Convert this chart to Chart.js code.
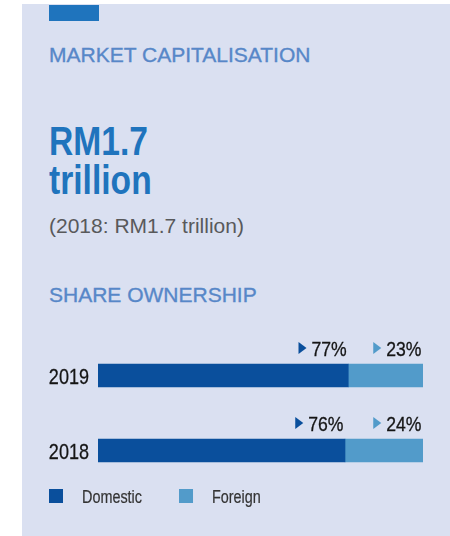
<!DOCTYPE html>
<html>
<head>
<meta charset="utf-8">
<script src="https://cdn.jsdelivr.net/npm/chart.js@4.4.1/dist/chart.umd.min.js"></script>
<style>
  body { margin: 0; background: #fff; width: 450px; height: 536px; overflow: hidden; position: relative; }
  .panel { position: absolute; left: 22px; top: 4px; right: 0; bottom: 0; background: #dae0f1; }
  .tag { position: absolute; left: 49px; top: 5px; width: 50px; height: 16px; background: #1f74bd; }
  .t { position: absolute; left: 49px; white-space: nowrap; font-family: "Liberation Sans", Arial, sans-serif; }
  .head { font-size: 21px; line-height: 21px; color: #5787c8; -webkit-text-stroke: 0.35px #5787c8; }
  .big { font-weight: bold; font-size: 40px; line-height: 40px; color: #1f74bd; transform: scaleX(0.84); transform-origin: 0 0; }
  .sub { font-size: 21px; line-height: 21px; color: #58595b; }
  canvas { position: absolute; left: 0; top: 0; }
</style>
</head>
<body>
<div class="panel"></div>
<div class="tag"></div>
<div class="t head" style="top:44px">MARKET CAPITALISATION</div>
<div class="t big" style="top:121px">RM1.7</div>
<div class="t big" style="top:160px">trillion</div>
<div class="t sub" style="top:215px">(2018: RM1.7 trillion)</div>
<div class="t head" style="top:284px">SHARE OWNERSHIP</div>
<canvas id="ownership" width="450" height="536"></canvas>
<script>
// share ownership, % of market capitalisation
const years = ['2019', '2018'];
const domestic = [77, 76];
const foreign = [23, 24];
const seriesNames = ['Domestic', 'Foreign'];
const seriesColors = ['#0a4f9c', '#529bca'];

const sans = '"Liberation Sans", Arial, sans-serif';

// no narrow font here, so squeeze the normal one
function narrowText(ctx, txt, x, y, squeeze) {
  const w = ctx.measureText(txt).width * squeeze;
  ctx.fillText(txt, x, y, w);
  ctx.strokeText(txt, x, y, w);
  return w;
}

// year labels next to the bars, placed by the y scale
const yearLabels = {
  id: 'yearLabels',
  afterDraw(chart) {
    const ctx = chart.ctx;
    const y = chart.scales.y;
    ctx.save();
    ctx.font = '22px ' + sans;
    ctx.textAlign = 'right';
    ctx.fillStyle = ctx.strokeStyle = '#151515';
    ctx.lineWidth = 0.3;
    chart.data.labels.forEach((lab, i) => {
      narrowText(ctx, lab, chart.chartArea.left - 9, y.getPixelForTick(i) + 8.5, 0.82);
    });
    ctx.restore();
  }
};

// percentage above the end of each segment, with a little pointer
const pctLabels = {
  id: 'pctLabels',
  afterDatasetsDraw(chart) {
    const ctx = chart.ctx;
    ctx.save();
    ctx.font = '20px ' + sans;
    ctx.textAlign = 'right';
    ctx.lineWidth = 0.3;
    chart.data.datasets.forEach((ds, i) => {
      chart.getDatasetMeta(i).data.forEach((bar, j) => {
        const txt = ds.data[j] + '%';
        const right = bar.x - 1.5;
        const base = bar.y - bar.height / 2 - 8.3;
        ctx.fillStyle = ctx.strokeStyle = '#151515';
        const w = narrowText(ctx, txt, right, base, 0.88);
        const left = right - w - 5;
        ctx.fillStyle = ds.backgroundColor;
        ctx.beginPath();
        ctx.moveTo(left - 8, base - 13.7);
        ctx.lineTo(left, base - 7.7);
        ctx.lineTo(left - 8, base - 1.7);
        ctx.closePath();
        ctx.fill();
      });
    });
    ctx.restore();
  }
};

const squareLegend = {
  id: 'squareLegend',
  afterDraw(chart) {
    const ctx = chart.ctx;
    const top = chart.chartArea.bottom + 1;
    let x = 49;
    ctx.save();
    ctx.font = '18px ' + sans;
    ctx.lineWidth = 0.2;
    chart.data.datasets.forEach(ds => {
      ctx.fillStyle = ds.backgroundColor;
      ctx.fillRect(x, top, 14, 14);
      ctx.fillStyle = ctx.strokeStyle = '#333';
      const w = narrowText(ctx, ds.label, x + 33, top + 14, 0.8);
      x += 33 + w + 37;
    });
    ctx.restore();
  }
};

const ctx = document.getElementById('ownership').getContext('2d');
new Chart(ctx, {
  type: 'bar',
  data: {
    labels: years,
    datasets: [
      { label: seriesNames[0], data: domestic, backgroundColor: seriesColors[0], barThickness: 23 },
      { label: seriesNames[1], data: foreign, backgroundColor: seriesColors[1], barThickness: 23 }
    ]
  },
  options: {
    indexAxis: 'y',
    responsive: false,
    animation: false,
    layout: { padding: { top: 338, bottom: 48, left: 0, right: 27 } },
    scales: {
      x: { stacked: true, min: 0, max: 100, display: false },
      y: {
        stacked: true,
        grid: { display: false, drawTicks: false },
        border: { display: false },
        ticks: { display: false },
        afterFit(scale) { scale.width = 98; }
      }
    },
    plugins: {
      legend: { display: false },
      tooltip: { enabled: false }
    }
  },
  plugins: [pctLabels, yearLabels, squareLegend]
});
</script>
</body>
</html>
